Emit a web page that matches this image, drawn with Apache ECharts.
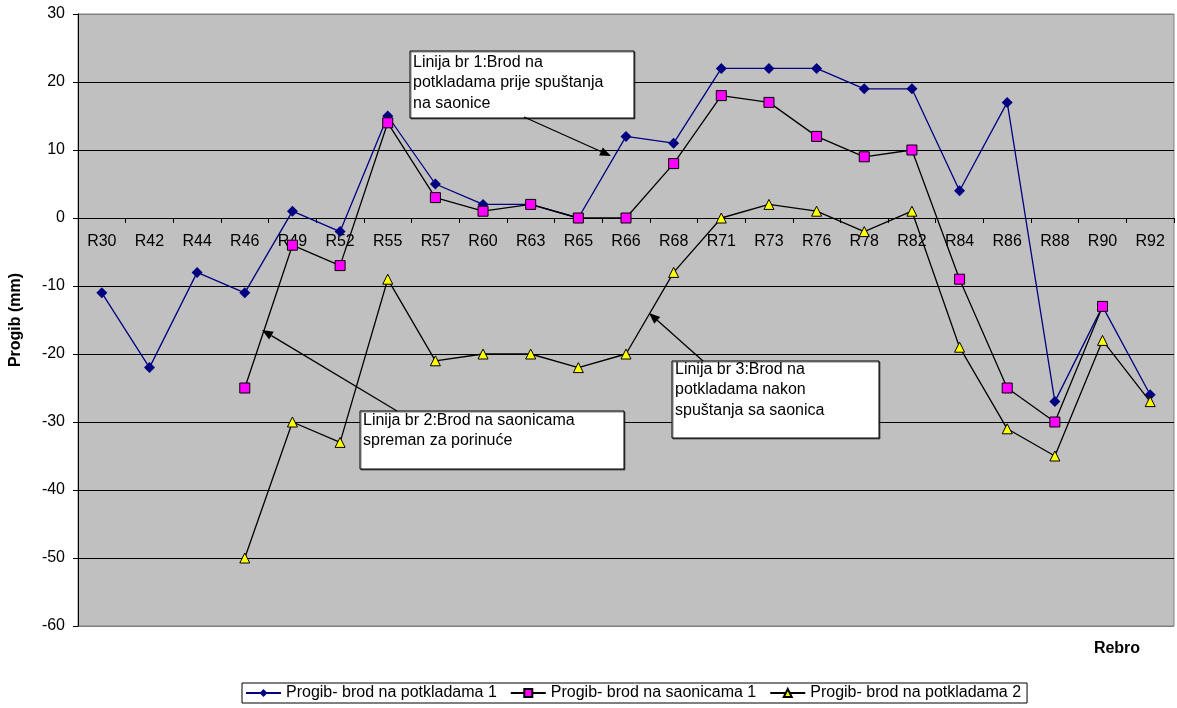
<!DOCTYPE html>
<html>
<head>
<meta charset="utf-8">
<script src="https://cdn.jsdelivr.net/npm/echarts@6/dist/echarts.min.js"></script>
<style>
html,body{margin:0;padding:0;background:#fff;}
#chart{width:1177px;height:708px;}
</style>
</head>
<body>
<div id="chart"></div>
<script>
const categories = ['R30','R42','R44','R46','R49','R52','R55','R57','R60','R63','R65','R66','R68','R71','R73','R76','R78','R82','R84','R86','R88','R90','R92'];
const seriesNames = ['Progib- brod na potkladama 1','Progib- brod na saonicama 1','Progib- brod na potkladama 2'];
const potkladama1 = [-11,-22,-8,-11,1,-2,15,5,2,2,0,12,11,22,22,22,19,19,4,17,-27,-13,-26];
const saonicama1 = [null,null,null,-25,-4,-7,14,3,1,2,0,0,8,18,17,12,9,10,-9,-25,-30,-13,null];
const potkladama2 = [null,null,null,-50,-30,-33,-9,-21,-20,-20,-22,-20,-8,0,2,1,-2,1,-19,-31,-35,-18,-27];
const yTicks = {min:-60, max:30, interval:10};
const annotations = [
  {lines:['Linija br 1:Brod na','potkladama prije spuštanja','na saonice']},
  {lines:['Linija br 2:Brod na saonicama','spreman za porinuće']},
  {lines:['Linija br 3:Brod na','potkladama nakon','spuštanja sa saonica']}
];

const FONT = "'Liberation Sans', Arial, sans-serif";
const GRID = {left:72, top:14, right:3, bottom:82};
const plotH = 708 - GRID.top - GRID.bottom;
// place the category axis where value 0 lies
const zeroOffset = -plotH * (0 - yTicks.min) / (yTicks.max - yTicks.min);

const boxes = [
  {x:410,y:51,w:224,h:67,tx:413,ty:52, arrow:[524,117,611,156]},
  {x:360,y:411,w:264,h:58,tx:363,ty:410, arrow:[397,411,262,330]},
  {x:672,y:361,w:207,h:77,tx:675,ty:359, arrow:[703,361,649,313]}
];

function arrowGraphics(a){
  const [x1,y1,x2,y2]=a;
  const ang=Math.atan2(y2-y1,x2-x1);
  const L=11, W=4.5;
  const bx=x2-L*Math.cos(ang), by=y2-L*Math.sin(ang);
  const px=-Math.sin(ang)*W, py=Math.cos(ang)*W;
  return [
    {type:'line',shape:{x1:x1,y1:y1,x2:bx,y2:by},style:{stroke:'#000',lineWidth:1.3},z:100},
    {type:'polygon',shape:{points:[[x2,y2],[bx+px,by+py],[bx-px,by-py]]},style:{fill:'#000'},z:100}
  ];
}

const graphics=[];
annotations.forEach((an,i)=>{
  const b=boxes[i];
  graphics.push({type:'rect',shape:{x:b.x,y:b.y,width:b.w,height:b.h},style:{fill:'#fff',stroke:'#000',lineWidth:1,shadowColor:'rgba(0,0,0,0.5)',shadowOffsetX:1,shadowOffsetY:1},z:100});
  graphics.push({type:'text',x:b.tx,y:b.ty,style:{text:an.lines.join('\n'),font:'16px '+FONT,lineHeight:20.5,fill:'#000'},z:101});
  arrowGraphics(b.arrow).forEach(g=>graphics.push(g));
});
graphics.push({type:'text',x:1117,y:649,style:{text:'Rebro',font:'bold 16px '+FONT,fill:'#000',align:'center',verticalAlign:'middle'},z:100});

const splitColors=[];
for(let v=yTicks.min; v<=yTicks.max; v+=yTicks.interval){
  splitColors.push((v===yTicks.min||v===yTicks.max)?'#808080':'#000');
}

const chart=echarts.init(document.getElementById('chart'),null,{renderer:'canvas'});
chart.setOption({
  animation:false,
  backgroundColor:'#fff',
  textStyle:{fontFamily:FONT},
  grid:{left:GRID.left,top:GRID.top,right:GRID.right,bottom:GRID.bottom,show:true,backgroundColor:'#C0C0C0',borderColor:'#808080',borderWidth:1},
  legend:{
    left:242,top:683,
    data:seriesNames,
    itemWidth:35,itemHeight:10,itemGap:13,
    padding:[2,6,2,3],
    borderColor:'#000',borderWidth:1,backgroundColor:'#fff',
    textStyle:{fontSize:16,color:'#000',fontFamily:FONT}
  },
  xAxis:{
    type:'category',data:categories,boundaryGap:true,
    offset:zeroOffset,
    axisLine:{onZero:false,lineStyle:{color:'#000',width:1}},
    axisTick:{show:true,interval:0,length:5,lineStyle:{color:'#000'}},
    axisLabel:{interval:0,fontSize:16,color:'#000',margin:16,fontFamily:FONT},
    splitLine:{show:false}
  },
  yAxis:{
    type:'value',min:yTicks.min,max:yTicks.max,interval:yTicks.interval,
    name:'Progib (mm)',nameLocation:'middle',nameGap:54,
    nameTextStyle:{fontSize:16,fontWeight:'bold',color:'#000',fontFamily:FONT},
    axisLine:{show:true,onZero:false,lineStyle:{color:'#000'}},
    axisTick:{show:true,length:5,lineStyle:{color:'#000'}},
    axisLabel:{fontSize:16,color:'#000',margin:13,fontFamily:FONT},
    splitLine:{show:true,lineStyle:{color:splitColors,width:1}}
  },
  series:[
    {name:seriesNames[0],type:'line',data:potkladama1,symbol:'diamond',symbolSize:11,
     lineStyle:{color:'#000080',width:1.3},itemStyle:{color:'#000080'},z:2},
    {name:seriesNames[1],type:'line',data:saonicama1,symbol:'rect',symbolSize:10,
     lineStyle:{color:'#000',width:1.3},itemStyle:{color:'#FF00FF',borderColor:'#000',borderWidth:1},z:3},
    {name:seriesNames[2],type:'line',data:potkladama2,symbol:'triangle',symbolSize:10,
     lineStyle:{color:'#000',width:1.3},itemStyle:{color:'#FFFF00',borderColor:'#000',borderWidth:1},z:4}
  ],
  graphic:graphics
});
</script>
</body>
</html>
